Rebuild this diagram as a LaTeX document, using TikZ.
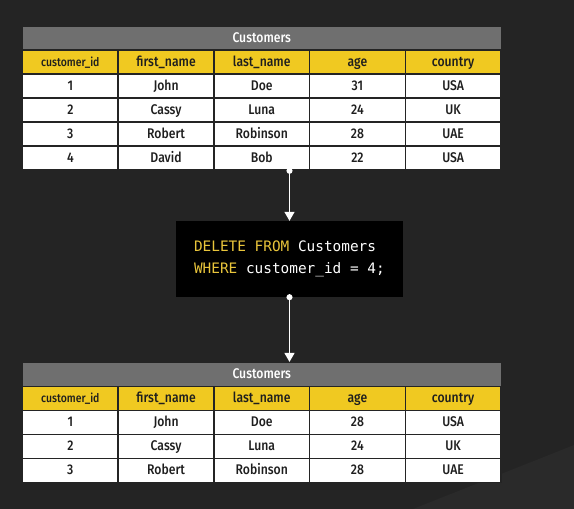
\documentclass[tikz,border=0pt]{standalone}
\usepackage{fontspec}
\setmainfont{Fira Sans}[UprightFont=* Medium, FakeStretch=0.87]
\newfontfamily\codefont{DejaVu Sans Mono}
\newcommand\ws{\hspace*{0.602em}}
\usetikzlibrary{arrows.meta,positioning}
\definecolor{sqlbg}{HTML}{242424}
\definecolor{sqlshade}{HTML}{2A2A2A}
\definecolor{titlegray}{HTML}{6F6F6F}
\definecolor{headyellow}{HTML}{F0C921}
\definecolor{celltext}{HTML}{1E1E1E}
\definecolor{keyword}{HTML}{E9C53B}

\begin{document}
\begin{tikzpicture}[
  x=1pt, y=-1pt,
  tabletitle/.style={
    rectangle, fill=titlegray, draw=sqlbg, line width=1.2pt,
    minimum width=479pt, minimum height=24pt, inner sep=0pt,
    text height=10pt, text depth=2pt,
    font=\fontsize{14}{16}\selectfont, text=white
  },
  cell/.style={
    rectangle, fill=white, draw=sqlbg, line width=1.6pt,
    minimum width=95.7pt, minimum height=24pt, inner sep=0pt,
    text height=10pt, text depth=2pt,
    font=\fontsize{14}{16}\selectfont, text=celltext
  },
  headcell/.style={cell, fill=headyellow},
  codebox/.style={
    rectangle, fill=black, minimum width=227pt, minimum height=76pt,
    inner xsep=18pt, text width=191pt, align=left,
    font=\codefont\fontsize{14.4}{22}\selectfont, text=white
  },
  flow/.style={
    white, line width=1.4pt,
    {Circle[length=6pt]}-{Triangle[length=9pt,width=10pt]}, shorten <=-3pt
  }
]

% ---- Background ----
\fill[sqlbg] (0,0) rectangle (574,509);
\fill[sqlshade] (413,509) -- (574,445) -- (574,509) -- cycle;

% ---- Table before ----
\node[tabletitle] (t0) at (261.75,38) {Customers};
\foreach \col/\txt in {1/{\fontsize{12}{14}\selectfont customer\_id},
    2/first\_name, 3/last\_name, 4/age, 5/country}
  \node[headcell] (th-\col) at ({22.5+95.7*(\col-0.5)},62) {\txt};
\foreach \r/\a/\b/\c/\d/\e in {1/1/John/Doe/31/USA, 2/2/Cassy/Luna/24/UK,
    3/3/Robert/Robinson/28/UAE, 4/4/David/Bob/22/USA}
  \foreach \col/\txt in {1/\a, 2/\b, 3/\c, 4/\d, 5/\e}
    \node[cell] (t\r-\col) at ({22.5+95.7*(\col-0.5)},{62+24*\r}) {\txt};

% ---- Query ----
\node[codebox] (code) at (289.5,259)
  {\textcolor{keyword}{DELETE\ws FROM}\ws Customers\\
   \textcolor{keyword}{WHERE}\ws customer\_id\ws=\ws4;};

% ---- Table after ----
\node[tabletitle] (b0) at (261.75,374.5) {Customers};
\foreach \col/\txt in {1/{\fontsize{12}{14}\selectfont customer\_id},
    2/first\_name, 3/last\_name, 4/age, 5/country}
  \node[headcell] (bh-\col) at ({22.5+95.7*(\col-0.5)},398.5) {\txt};
\foreach \r/\a/\b/\c/\d/\e in {1/1/John/Doe/28/USA, 2/2/Cassy/Luna/24/UK,
    3/3/Robert/Robinson/28/UAE}
  \foreach \col/\txt in {1/\a, 2/\b, 3/\c, 4/\d, 5/\e}
    \node[cell] (b\r-\col) at ({22.5+95.7*(\col-0.5)},{398.5+24*\r}) {\txt};

% Arrows
\draw[flow] (t4-3.south -| code.north) -- (code.north);
\draw[flow] (code.south) -- (code.south |- b0.north);

\end{tikzpicture}
\end{document}
